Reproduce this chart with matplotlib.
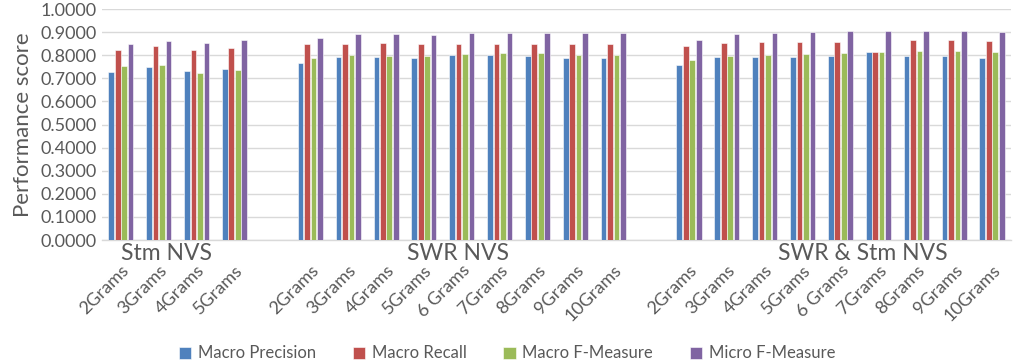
import numpy as np
import matplotlib
matplotlib.use("Agg")
import matplotlib.pyplot as plt

plt.rcParams["font.family"] = ["Lato", "DejaVu Sans"]

# --- data ---
stm_labels = ["2Grams", "3Grams", "4Grams", "5Grams"]
swr_labels = ["2Grams", "3Grams", "4Grams", "5Grams", "6 Grams",
              "7Grams", "8Grams", "9Grams", "10Grams"]
both_labels = swr_labels

series_names = ["Macro Precision", "Macro Recall", "Macro F-Measure", "Micro F-Measure"]
colors = ["#4F81BD", "#C0504D", "#9BBB59", "#8064A2"]

stm_precision = [0.729, 0.749, 0.732, 0.740]
stm_recall = [0.821, 0.838, 0.823, 0.830]
stm_macro_f = [0.752, 0.756, 0.724, 0.737]
stm_micro_f = [0.848, 0.861, 0.851, 0.864]

swr_precision = [0.768, 0.792, 0.791, 0.788, 0.802, 0.802, 0.798, 0.786, 0.786]
swr_recall = [0.847, 0.848, 0.851, 0.848, 0.848, 0.850, 0.850, 0.847, 0.847]
swr_macro_f = [0.790, 0.799, 0.798, 0.795, 0.805, 0.808, 0.808, 0.801, 0.801]
swr_micro_f = [0.874, 0.890, 0.890, 0.887, 0.896, 0.896, 0.896, 0.896, 0.896]

both_precision = [0.758, 0.791, 0.791, 0.794, 0.798, 0.814, 0.798, 0.795, 0.789]
both_recall = [0.838, 0.851, 0.856, 0.856, 0.856, 0.814, 0.864, 0.864, 0.860]
both_macro_f = [0.779, 0.798, 0.802, 0.807, 0.811, 0.814, 0.818, 0.818, 0.814]
both_micro_f = [0.867, 0.892, 0.896, 0.900, 0.903, 0.905, 0.906, 0.905, 0.902]

group_names = ["Stm NVS", "SWR NVS", "SWR & Stm NVS"]

# one blank category between groups, as in the original spreadsheet
blank = [np.nan]
series = [
    stm_precision + blank + swr_precision + blank + both_precision,
    stm_recall + blank + swr_recall + blank + both_recall,
    stm_macro_f + blank + swr_macro_f + blank + both_macro_f,
    stm_micro_f + blank + swr_micro_f + blank + both_micro_f,
]
tick_labels = stm_labels + [""] + swr_labels + [""] + both_labels
x = np.arange(len(tick_labels))

fig = plt.figure(figsize=(10.14, 3.62), dpi=100)
ax = fig.add_axes([0.1006, 0.337, 0.8964, 0.638])

text_col = "#595959"
pitch, width = 0.171, 0.15
for i, (vals, name, col) in enumerate(zip(series, series_names, colors)):
    ax.bar(x + (i - 1.5) * pitch, vals, width, color=col, label=name,
           edgecolor="white", linewidth=0.4, zorder=3)

ax.set_xlim(-0.5, len(tick_labels) - 0.5)
ax.set_ylim(0, 1.0)
ax.set_yticks(np.arange(0, 1.01, 0.1))
ax.set_yticklabels([f"{v:.4f}" for v in np.arange(0, 1.01, 0.1)])
ax.set_xticks(x)
ax.set_xticklabels(tick_labels, rotation=45, ha="right", rotation_mode="anchor")
ax.tick_params(axis="x", length=0, pad=16, labelsize=13, colors=text_col)
ax.tick_params(axis="y", length=0, pad=4, labelsize=13, colors=text_col)

ax.grid(axis="y", color="#D9D9D9", linewidth=1.0, zorder=0)
for s in ("top", "right", "left"):
    ax.spines[s].set_visible(False)
ax.spines["bottom"].set_color("#D9D9D9")
ax.spines["bottom"].set_linewidth(1.0)

ax.set_ylabel("Performance score", fontsize=16, color=text_col, labelpad=5)

# group captions sit just under the axis line
for gx, name in zip([1.2, 8.9, 19.6], group_names):
    ax.text(gx, -0.058, name, transform=ax.get_xaxis_transform(),
            ha="center", va="center", fontsize=16.5, color=text_col)

fig.legend(loc="lower center", bbox_to_anchor=(0.5, -0.04), ncol=4,
           frameon=False, fontsize=12, handlelength=0.75, handleheight=0.75,
           columnspacing=2.2, handletextpad=0.4, labelcolor=text_col)

fig.savefig("out.png", dpi=100)
plt.close(fig)
